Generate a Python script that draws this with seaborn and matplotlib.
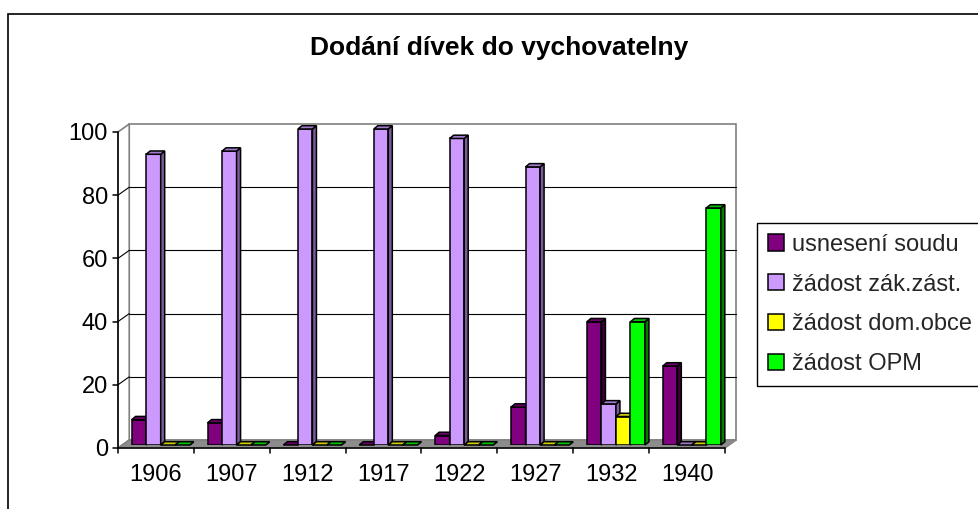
import numpy as np
import pandas as pd
import matplotlib
matplotlib.use('Agg')
import matplotlib.pyplot as plt
import seaborn as sns
from matplotlib.patches import Polygon, Patch, Rectangle
from matplotlib.lines import Line2D
import matplotlib.transforms as mtrans

# ---------------- data ----------------
years = ['1906', '1907', '1912', '1917', '1922', '1927', '1932', '1940']
series = ['usnesení soudu', 'žádost zák.zást.', 'žádost dom.obce', 'žádost OPM']
usneseni_soudu = [8, 7, 0, 0, 3, 12, 39, 25]
zadost_zak_zast = [92, 93, 100, 100, 97, 88, 13, 0]
zadost_dom_obce = [0, 0, 0, 0, 0, 0, 9, 0]
zadost_opm = [0, 0, 0, 0, 0, 0, 39, 75]
yticks = [0, 20, 40, 60, 80, 100]
title = 'Dodání dívek do vychovatelny'

colors = ['#800080', '#CC99FF', '#FFFF00', '#00FF00']
side_colors = ['#3A003A', '#7A5C99', '#808000', '#008000']
top_colors = ['#6A006A', '#A07ACC', '#CCCC00', '#00C000']

rows = []
for s, vals in zip(series, [usneseni_soudu, zadost_zak_zast, zadost_dom_obce, zadost_opm]):
    for y, v in zip(years, vals):
        rows.append((y, s, v))
df = pd.DataFrame(rows, columns=['rok', 'druh', 'pocet'])

# ---------------- figure ----------------
W, H, DPI = 979, 509, 100
sns.set_theme(style='white')
plt.rcParams['font.family'] = ['Liberation Sans', 'DejaVu Sans']

fig = plt.figure(figsize=(W / DPI, H / DPI), dpi=DPI)
fig.patch.set_facecolor('white')

# axes plane = front plane of the bars (pixel geometry of the reference)
x_left, x_right = 122.75, 729.75
y0_px, y100_px = 445.0, 129.0
ax = fig.add_axes([x_left / W, 1 - y0_px / H, (x_right - x_left) / W, (y0_px - y100_px) / H])
ax.patch.set_visible(False)

sns.barplot(data=df, x='rok', y='pocet', hue='druh', order=years, hue_order=series,
            palette=colors, saturation=1, width=0.765, edgecolor='black', linewidth=1.1,
            errorbar=None, legend=False, ax=ax)

ax.set_xlim(-0.5, len(years) - 0.5)
ax.set_ylim(0, 100)
for sp in ax.spines.values():
    sp.set_visible(False)
ax.set_xlabel('')
ax.set_ylabel('')

FRONT = (-4.75, -3.0)
BACK = (6.5, 5.0)
DEPTH = (4.0, 3.3)
ID = mtrans.IdentityTransform()


def D(x, y, off=(0, 0)):
    px, py = ax.transData.transform((x, y))
    return (px + off[0], py + off[1])


def poly(pts, fc, ec, lw, z):
    p = Polygon(pts, closed=True, facecolor=fc, edgecolor=ec, linewidth=lw,
                transform=ID, zorder=z, clip_on=False)
    ax.add_artist(p)


def line(p1, p2, color, lw, z):
    l = Line2D([p1[0], p2[0]], [p1[1], p2[1]], color=color, linewidth=lw,
               transform=ID, zorder=z, clip_on=False)
    ax.add_artist(l)


xmin, xmax = -0.5, len(years) - 0.5
# back wall
poly([D(xmin, 0, BACK), D(xmax, 0, BACK), D(xmax, 100, BACK), D(xmin, 100, BACK)],
     'white', '#808080', 1.2, 1)
# side wall
poly([D(xmin, 0, FRONT), D(xmin, 0, BACK), D(xmin, 100, BACK), D(xmin, 100, FRONT)],
     'white', '#808080', 1.2, 1)
# floor
poly([D(xmin, 0, FRONT), D(xmax, 0, FRONT), D(xmax, 0, BACK), D(xmin, 0, BACK)],
     '#8C8C8C', '#808080', 1.0, 2)
# gridlines
for v in yticks[1:-1]:
    line(D(xmin, v, BACK), D(xmax, v, BACK), 'black', 0.8, 1.5)
    line(D(xmin, v, FRONT), D(xmin, v, BACK), 'black', 0.8, 1.5)

# front axes
line(D(xmin, 0, FRONT), D(xmin, 100, FRONT), 'black', 1.1, 3)
line(D(xmin, 0, FRONT), D(xmax, 0, FRONT), 'black', 1.1, 3)
for v in yticks:
    p = D(xmin, v, FRONT)
    line(p, (p[0] - 5, p[1]), 'black', 1.1, 3)
for k in range(len(years) + 1):
    p = D(k - 0.5, 0, FRONT)
    line(p, (p[0], p[1] - 5), 'black', 1.1, 3)

# 3D faces of the bars
for j, cont in enumerate(ax.containers):
    for bar in cont:
        x0 = bar.get_x()
        w = bar.get_width()
        h = bar.get_height()
        bar.set_zorder(10 + 2 * j)
        a = D(x0 + w, 0)
        b = D(x0 + w, h)
        poly([a, b, (b[0] + DEPTH[0], b[1] + DEPTH[1]), (a[0] + DEPTH[0], a[1] + DEPTH[1])],
             side_colors[j], 'black', 1.1, 11 + 2 * j)
        c = D(x0, h)
        poly([c, b, (b[0] + DEPTH[0], b[1] + DEPTH[1]), (c[0] + DEPTH[0], c[1] + DEPTH[1])],
             top_colors[j], 'black', 1.1, 11 + 2 * j)

# tick labels (shifted to the front plane)
ax.set_yticks(yticks)
ax.set_yticklabels([str(v) for v in yticks])
ax.set_xticks(range(len(years)))
ax.set_xticklabels(years)
ax.tick_params(axis='both', length=0, labelsize=17, labelcolor='black')
ax.tick_params(axis='y', pad=10.6)
ax.tick_params(axis='x', pad=13.6)
for lab in ax.get_yticklabels():
    lab.set_transform(lab.get_transform() + mtrans.Affine2D().translate(0, FRONT[1]))
for lab in ax.get_xticklabels():
    lab.set_transform(lab.get_transform() + mtrans.Affine2D().translate(FRONT[0], 0))

# legend
handles = [Patch(facecolor=c, edgecolor='black', linewidth=1.1, label=s)
           for c, s in zip(colors, series)]
leg = fig.legend(handles=handles, loc='upper left', bbox_to_anchor=(757 / W, 1 - 223 / H),
                 bbox_transform=fig.transFigure, frameon=True, fancybox=False, shadow=False,
                 fontsize=17, handlelength=0.68, handleheight=0.68, handletextpad=0.35,
                 labelspacing=0.75, borderpad=0.46, borderaxespad=0, edgecolor='black',
                 framealpha=1)
leg.get_frame().set_linewidth(1.0)

# title
fig.text(499 / W, 1 - 48 / H, title, ha='center', va='center', fontsize=19,
         fontweight='bold', color='black')

# chart area border (only left and top visible)
fig.add_artist(Rectangle((8 / W, -0.2), 1.5, 1.2 - 13.5 / H, transform=fig.transFigure,
                         fill=False, edgecolor='black', linewidth=1.2))

fig.savefig('out.png', dpi=DPI)
